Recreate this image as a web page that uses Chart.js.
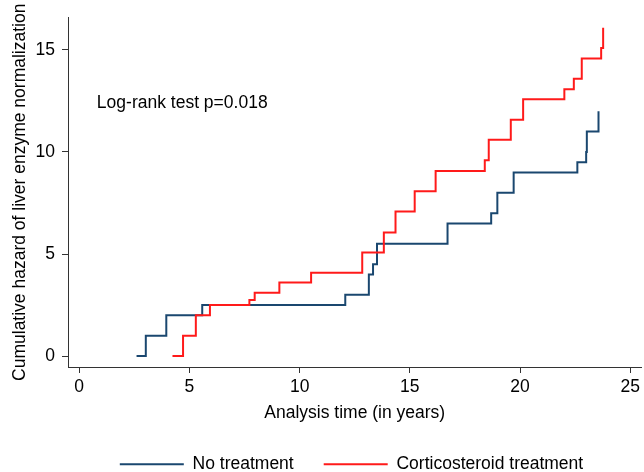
<!DOCTYPE html>
<html><head><meta charset="utf-8">
<script src="https://cdn.jsdelivr.net/npm/chart.js@4/dist/chart.umd.min.js"></script>
<style>html,body{margin:0;padding:0;background:#fff}#wrap{width:644px;height:472px;position:relative}</style>
</head><body><div id="wrap"><canvas id="c" width="644" height="472"></canvas></div>
<script>
// ---- data ----
const noTreatTime   = [2.6, 3.02, 3.95, 5.58, 12.07, 13.14, 13.33, 13.51, 16.71, 18.69, 18.97, 19.71, 22.6, 23.0, 23.03, 23.56];
const noTreatHazard = [0, 1, 2, 2.5, 3, 4, 4.5, 5.5, 6.5, 7, 8, 9, 9.5, 10, 11, 12];
const corticoTime   = [4.23, 4.71, 5.29, 5.93, 7.72, 7.96, 9.08, 10.52, 12.84, 13.82, 14.35, 15.22, 16.17, 18.4, 18.58, 19.58, 20.14, 22.01, 22.44, 22.8, 23.68, 23.77];
const corticoHazard = [0, 1, 2, 2.5, 2.75, 3.1, 3.6, 4.08, 5.07, 6.06, 7.08, 8.08, 9.07, 9.59, 10.6, 11.58, 12.58, 13.08, 13.59, 14.58, 15.1, 16.09];
const xTickValues = [0, 5, 10, 15, 20, 25];
const yTickValues = [0, 5, 10, 15];
const seriesNames = ['No treatment', 'Corticosteroid treatment'];
const xTitle = 'Analysis time (in years)';
const yTitle = 'Cumulative hazard of liver enzyme normalization';
const noteText = 'Log-rank test p=0.018';

// ---- styling / layout ----
const FONT = '"Liberation Sans", Arial, sans-serif';
const FS = 17.5;
const BLUE = '#1a476f';
const RED = '#ff1a1a';
const AXIS = '#333333';
const NOTE_POS = {x: 0.8, y: 12.38};
const LEGEND_DX = 30, LEGEND_DY = 11;

const toPts = (xs, ys) => xs.map((v, i) => ({x: v, y: ys[i]}));

const notePlugin = {
  id: 'note',
  afterDatasetsDraw(chart) {
    const {ctx, scales: {x, y}} = chart;
    ctx.save();
    ctx.font = FS + 'px ' + FONT;
    ctx.fillStyle = '#000';
    ctx.textBaseline = 'middle';
    ctx.textAlign = 'left';
    ctx.fillText(noteText, x.getPixelForValue(NOTE_POS.x), y.getPixelForValue(NOTE_POS.y));
    ctx.restore();
  }
};
const legendShift = {
  id: 'legendShift',
  afterLayout(chart) {
    const l = chart.legend;
    l.left += LEGEND_DX; l.right += LEGEND_DX;
    l.top += LEGEND_DY; l.bottom += LEGEND_DY;
  }
};

new Chart(document.getElementById('c'), {
  type: 'line',
  data: {
    datasets: [
      {label: seriesNames[0], data: toPts(noTreatTime, noTreatHazard), borderColor: BLUE, backgroundColor: BLUE,
       borderWidth: 2, pointRadius: 0, stepped: 'before', fill: false, order: 1},
      {label: seriesNames[1], data: toPts(corticoTime, corticoHazard), borderColor: RED, backgroundColor: RED,
       borderWidth: 2, pointRadius: 0, stepped: 'before', fill: false, order: 0}
    ]
  },
  options: {
    responsive: false,
    animation: false,
    devicePixelRatio: 1,
    layout: {padding: {top: 15.7, left: 0, right: 1, bottom: 0}},
    plugins: {
      tooltip: {enabled: false},
      legend: {
        position: 'bottom',
        labels: {
          boxWidth: 64, boxHeight: 2, padding: 30, color: '#000',
          font: {family: FONT, size: FS},
          sort: (a, b) => a.datasetIndex - b.datasetIndex,
          generateLabels: (chart) => Chart.defaults.plugins.legend.labels.generateLabels(chart).map(it => ({...it, lineWidth: 0}))
        }
      }
    },
    scales: {
      x: {
        type: 'linear', position: 'bottom', min: -0.51, max: 25.51,
        afterBuildTicks: s => { s.ticks = xTickValues.map(v => ({value: v})); },
        afterFit: s => { s.height = 47.5; },
        grid: {drawOnChartArea: false, drawTicks: true, tickLength: 6, color: AXIS, lineWidth: 1},
        border: {display: true, color: AXIS, width: 1},
        ticks: {font: {family: FONT, size: FS}, color: '#000', padding: 4, maxRotation: 0, autoSkip: false},
        title: {display: true, text: xTitle, color: '#000', font: {family: FONT, size: FS}, padding: {top: 0, bottom: -9}}
      },
      y: {
        type: 'linear', position: 'left', min: -0.536, max: 16.59,
        afterBuildTicks: s => { s.ticks = yTickValues.map(v => ({value: v})); },
        afterFit: s => { s.width = 68; },
        grid: {drawOnChartArea: false, drawTicks: true, tickLength: 6, color: AXIS, lineWidth: 1},
        border: {display: true, color: AXIS, width: 1},
        ticks: {font: {family: FONT, size: FS}, color: '#000', padding: 7, autoSkip: false},
        title: {display: true, text: yTitle, color: '#000', font: {family: FONT, size: FS}, padding: {top: 9.5, bottom: 0}}
      }
    }
  },
  plugins: [notePlugin, legendShift]
});
</script></body></html>
